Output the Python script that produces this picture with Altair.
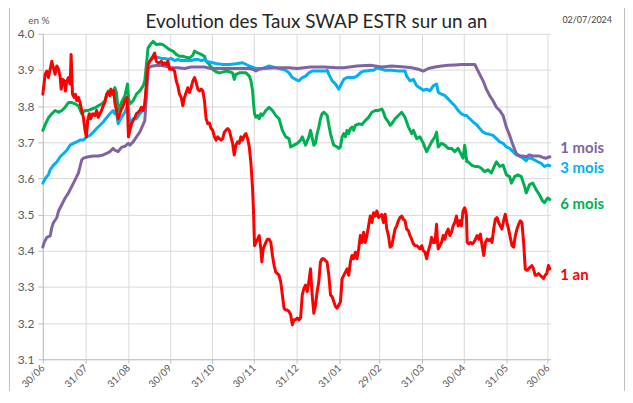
import altair as alt
import pandas as pd

# ---- data (day offsets from 30/06/2023, rates in %) ----
days_1an = [0, 1.7, 2.9, 4.1, 5.3, 6.5, 7.7, 8.9, 10.1, 11.4, 12.6, 13.3, 14.5, 15.4, 16.4, 17.4, 18.6, 19.8, 20.5, 21.5,
            22.7, 23.6, 24.6, 25.8, 27.0, 28.2, 29.4, 30.6, 31.6, 32.5, 33.7, 34.7, 36.1, 37.8, 39.0, 40.2, 41.4, 42.6, 43.8, 45.0,
            46.2, 47.4, 48.6, 49.3, 50.6, 51.5, 52.2, 53.4, 54.6, 55.8, 57.0, 58.2, 59.5, 60.2, 61.1, 62.1, 63.1, 64.3, 65.5, 66.7,
            67.9, 69.1, 70.3, 71.5, 72.7, 73.9, 75.1, 76.3, 77.5, 78.7, 79.9, 81.1, 82.3, 83.5, 84.7, 85.9, 87.1, 88.3, 89.5, 90.7,
            91.9, 93.1, 94.3, 95.5, 96.7, 97.9, 99.1, 100.3, 101.5, 102.7, 103.9, 105.1, 106.3, 107.5, 108.8, 110.0, 111.2, 112.4, 113.6, 114.8,
            116.0, 117.2, 118.4, 119.6, 120.8, 122.0, 123.2, 124.4, 125.6, 126.8, 128.0, 129.2, 130.4, 131.6, 132.8, 134.0, 135.2, 136.4, 137.6, 138.8,
            140.0, 141.2, 142.4, 143.6, 144.8, 146.1, 147.3, 148.5, 149.7, 150.9, 152.1, 152.8, 153.5, 154.5, 155.7, 156.9, 158.1, 158.8, 159.8, 160.7,
            161.7, 162.9, 164.1, 165.3, 166.5, 167.7, 168.9, 170.1, 171.3, 172.5, 173.7, 174.9, 176.1, 177.3, 178.5, 179.7, 180.9, 182.1, 183.3, 184.5,
            185.7, 186.9, 188.1, 189.3, 190.5, 191.7, 192.9, 194.1, 195.3, 196.5, 197.7, 198.9, 200.1, 201.3, 202.5, 203.7, 204.9, 206.1, 207.4, 208.6,
            209.8, 211.0, 212.2, 213.4, 214.6, 215.8, 217.0, 218.2, 219.4, 220.6, 221.8, 223.0, 224.2, 225.4, 226.6, 227.8, 229.0, 230.2, 231.4, 232.6,
            233.8, 235.0, 236.2, 237.4, 238.6, 239.8, 241.0, 242.2, 243.4, 244.6, 245.8, 247.0, 248.2, 249.4, 250.6, 251.8, 253.0, 254.2, 255.4, 256.6,
            257.8, 259.0, 260.2, 261.4, 262.6, 263.8, 265.0, 266.2, 267.4, 268.7, 269.9, 271.1, 272.3, 273.5, 274.7, 275.9, 277.1, 278.3, 279.5, 280.7,
            281.9, 283.1, 284.3, 285.5, 286.2, 286.7, 287.9, 289.1, 290.3, 291.5, 292.7, 293.9, 295.1, 296.3, 297.5, 298.7, 299.9, 301.1, 302.3, 303.5,
            304.7, 305.9, 307.1, 307.7, 308.9, 310.1, 311.3, 312.5, 313.7, 314.9, 316.1, 317.3, 318.5, 319.7, 320.9, 322.1, 323.3, 324.5, 325.7, 326.9,
            328.1, 329.3, 330.5, 331.7, 332.9, 334.1, 335.3, 336.5, 337.7, 338.9, 340.2, 341.4, 342.6, 343.8, 345.0, 346.2, 347.4, 348.6, 349.8, 351.0,
            352.2, 353.4, 354.6, 355.8, 357.0, 358.2, 359.4, 360.6, 361.8, 363.0, 364.2, 365.4, 366.6, 367.6]
vals_1an = [3.833, 3.888, 3.897, 3.879, 3.902, 3.924, 3.906, 3.888, 3.911, 3.902, 3.879, 3.847, 3.874, 3.870, 3.842, 3.870, 3.879, 3.861, 3.943, 3.833,
            3.824, 3.833, 3.815, 3.824, 3.810, 3.788, 3.769, 3.733, 3.715, 3.760, 3.779, 3.765, 3.779, 3.774, 3.788, 3.769, 3.779, 3.788, 3.801, 3.810,
            3.833, 3.838, 3.829, 3.847, 3.833, 3.842, 3.810, 3.788, 3.765, 3.779, 3.792, 3.801, 3.815, 3.820, 3.824, 3.715, 3.733, 3.751, 3.760, 3.769,
            3.779, 3.783, 3.788, 3.797, 3.788, 3.806, 3.861, 3.915, 3.924, 3.929, 3.938, 3.947, 3.924, 3.920, 3.920, 3.924, 3.915, 3.920, 3.915, 3.924,
            3.902, 3.902, 3.902, 3.897, 3.870, 3.856, 3.833, 3.824, 3.801, 3.824, 3.838, 3.851, 3.838, 3.851, 3.870, 3.879, 3.865, 3.847, 3.842, 3.847,
            3.842, 3.815, 3.765, 3.751, 3.753, 3.738, 3.733, 3.715, 3.706, 3.715, 3.710, 3.706, 3.710, 3.728, 3.733, 3.738, 3.733, 3.715, 3.697, 3.665,
            3.692, 3.701, 3.697, 3.715, 3.706, 3.719, 3.724, 3.710, 3.687, 3.642, 3.569, 3.505, 3.414, 3.423, 3.432, 3.442, 3.405, 3.369, 3.405, 3.414,
            3.423, 3.432, 3.432, 3.423, 3.387, 3.359, 3.341, 3.337, 3.332, 3.314, 3.277, 3.241, 3.236, 3.236, 3.232, 3.223, 3.195, 3.209, 3.209, 3.214,
            3.209, 3.214, 3.277, 3.296, 3.305, 3.287, 3.314, 3.350, 3.277, 3.227, 3.250, 3.287, 3.314, 3.369, 3.378, 3.378, 3.373, 3.369, 3.332, 3.277,
            3.273, 3.259, 3.246, 3.241, 3.250, 3.259, 3.323, 3.332, 3.341, 3.350, 3.332, 3.369, 3.387, 3.378, 3.396, 3.378, 3.405, 3.442, 3.423, 3.451,
            3.423, 3.442, 3.469, 3.496, 3.478, 3.505, 3.496, 3.510, 3.492, 3.496, 3.500, 3.478, 3.501, 3.460, 3.442, 3.410, 3.414, 3.437, 3.460, 3.469,
            3.483, 3.492, 3.496, 3.487, 3.483, 3.460, 3.456, 3.442, 3.432, 3.419, 3.414, 3.414, 3.410, 3.405, 3.414, 3.400, 3.396, 3.378, 3.400, 3.414,
            3.437, 3.423, 3.423, 3.473, 3.423, 3.405, 3.414, 3.423, 3.442, 3.432, 3.451, 3.460, 3.442, 3.451, 3.469, 3.478, 3.496, 3.469, 3.483, 3.469,
            3.510, 3.519, 3.500, 3.423, 3.419, 3.423, 3.419, 3.423, 3.432, 3.442, 3.432, 3.446, 3.414, 3.387, 3.423, 3.432, 3.428, 3.432, 3.423, 3.460,
            3.487, 3.492, 3.478, 3.469, 3.460, 3.483, 3.501, 3.478, 3.460, 3.437, 3.414, 3.410, 3.442, 3.460, 3.473, 3.483, 3.478, 3.423, 3.350, 3.346,
            3.350, 3.355, 3.359, 3.350, 3.332, 3.332, 3.337, 3.332, 3.328, 3.323, 3.332, 3.337, 3.359, 3.350]

days_6m = [0, 2.0, 4.1, 6.5, 8.9, 11.4, 13.8, 16.2, 18.6, 21.0, 23.4, 25.8, 28.2, 30.6, 33.0, 35.4, 37.8, 40.2, 42.6, 45.0,
           47.4, 49.8, 52.2, 53.4, 54.6, 57.0, 59.5, 61.4, 62.1, 63.1, 65.5, 67.9, 70.3, 72.7, 73.9, 75.1, 76.3, 78.7, 79.9, 82.3,
           84.7, 87.1, 89.5, 91.9, 94.3, 96.7, 99.1, 101.5, 103.9, 106.4, 108.8, 110.0, 112.4, 114.8, 117.2, 118.4, 120.8, 123.2, 125.6, 128.0,
           130.4, 132.8, 135.2, 137.6, 138.8, 140.0, 142.5, 144.9, 147.3, 149.7, 150.9, 152.1, 152.8, 153.5, 154.5, 155.7, 156.9, 158.1, 159.3, 161.7,
           164.1, 166.5, 168.9, 171.3, 173.7, 176.1, 178.5, 179.7, 182.1, 184.5, 186.9, 188.1, 190.5, 192.9, 194.1, 196.5, 197.7, 198.9, 200.1, 201.3,
           202.5, 203.8, 206.2, 207.4, 208.6, 209.8, 211.0, 213.4, 214.6, 215.8, 217.0, 218.2, 219.4, 220.6, 221.8, 223.0, 224.2, 225.4, 226.6, 229.0,
           231.4, 233.8, 236.2, 238.6, 241.0, 243.4, 245.8, 247.0, 248.2, 250.6, 251.8, 253.0, 255.4, 257.8, 260.2, 262.6, 265.1, 267.5, 268.7, 271.1,
           273.5, 275.9, 278.3, 279.5, 281.9, 284.3, 285.5, 286.7, 289.1, 291.5, 293.9, 296.3, 298.7, 301.1, 303.5, 304.7, 305.9, 307.4, 308.4, 310.8,
           313.2, 315.6, 318.0, 320.4, 322.8, 325.2, 327.7, 328.9, 331.3, 333.7, 336.1, 338.5, 339.7, 342.1, 344.5, 346.9, 349.3, 350.5, 352.9, 355.3,
           357.7, 360.1, 362.5, 363.7, 366.1, 367.6]
vals_6m = [3.733, 3.751, 3.768, 3.779, 3.788, 3.783, 3.788, 3.797, 3.810, 3.810, 3.806, 3.801, 3.779, 3.788, 3.788, 3.792, 3.795, 3.801, 3.806, 3.815,
           3.842, 3.833, 3.851, 3.838, 3.788, 3.810, 3.829, 3.861, 3.824, 3.806, 3.815, 3.833, 3.842, 3.856, 3.870, 3.915, 3.961, 3.974, 3.979, 3.970,
           3.972, 3.970, 3.963, 3.956, 3.952, 3.943, 3.938, 3.938, 3.935, 3.933, 3.941, 3.952, 3.947, 3.943, 3.938, 3.924, 3.915, 3.902, 3.895, 3.892,
           3.894, 3.897, 3.895, 3.892, 3.874, 3.888, 3.892, 3.892, 3.892, 3.883, 3.870, 3.842, 3.806, 3.779, 3.769, 3.774, 3.765, 3.779, 3.774, 3.788,
           3.797, 3.788, 3.774, 3.765, 3.733, 3.715, 3.710, 3.687, 3.692, 3.697, 3.706, 3.715, 3.692, 3.715, 3.733, 3.692, 3.697, 3.724, 3.742, 3.765,
           3.779, 3.783, 3.774, 3.747, 3.724, 3.706, 3.692, 3.687, 3.683, 3.687, 3.715, 3.724, 3.715, 3.733, 3.724, 3.738, 3.742, 3.733, 3.747, 3.751,
           3.749, 3.760, 3.769, 3.783, 3.788, 3.788, 3.792, 3.783, 3.769, 3.756, 3.747, 3.751, 3.765, 3.774, 3.783, 3.769, 3.742, 3.724, 3.733, 3.710,
           3.715, 3.697, 3.674, 3.683, 3.701, 3.715, 3.728, 3.687, 3.697, 3.692, 3.683, 3.683, 3.674, 3.683, 3.665, 3.656, 3.692, 3.646, 3.646, 3.637,
           3.633, 3.633, 3.628, 3.619, 3.624, 3.615, 3.637, 3.646, 3.633, 3.637, 3.610, 3.605, 3.587, 3.605, 3.610, 3.605, 3.578, 3.560, 3.583, 3.587,
           3.569, 3.555, 3.537, 3.533, 3.546, 3.542]

days_3m = [0, 2.0, 4.1, 5.3, 7.7, 10.2, 12.6, 15.0, 17.4, 19.8, 22.2, 24.6, 27.0, 29.4, 31.8, 34.2, 36.6, 39.0, 41.4, 43.8,
           46.2, 48.6, 51.0, 52.2, 53.4, 54.6, 57.0, 59.5, 61.9, 63.1, 65.5, 67.9, 70.3, 72.7, 73.9, 75.1, 76.3, 78.7, 81.1, 83.5,
           85.9, 88.3, 90.7, 93.1, 95.5, 97.9, 100.3, 102.7, 105.2, 107.6, 110.0, 112.4, 114.8, 117.2, 119.6, 123.2, 125.6, 130.4, 135.2, 140.0,
           144.9, 149.7, 154.5, 159.3, 164.1, 168.9, 173.7, 176.1, 178.5, 180.9, 183.3, 185.7, 188.1, 190.5, 192.9, 195.3, 197.7, 200.1, 202.5, 205.0,
           206.2, 207.4, 209.8, 212.2, 214.6, 215.8, 218.2, 220.6, 223.0, 225.4, 227.8, 230.2, 232.6, 235.0, 237.4, 239.8, 242.2, 245.8, 248.2, 253.0,
           257.8, 262.6, 263.8, 266.3, 268.7, 271.1, 273.5, 275.9, 278.3, 280.7, 283.1, 285.5, 286.7, 289.1, 291.5, 293.9, 296.3, 298.7, 301.1, 303.5,
           305.9, 307.2, 309.6, 312.0, 314.4, 316.8, 319.2, 321.6, 324.0, 326.4, 328.9, 331.3, 333.7, 336.1, 338.5, 340.9, 343.3, 345.7, 348.1, 350.5,
           351.7, 354.1, 356.5, 358.9, 361.3, 363.7, 366.1, 367.6]
vals_3m = [3.587, 3.601, 3.610, 3.624, 3.637, 3.646, 3.660, 3.669, 3.678, 3.692, 3.697, 3.701, 3.706, 3.706, 3.715, 3.719, 3.728, 3.738, 3.747, 3.756,
           3.768, 3.779, 3.788, 3.779, 3.783, 3.751, 3.769, 3.783, 3.806, 3.751, 3.765, 3.765, 3.779, 3.788, 3.797, 3.851, 3.915, 3.933, 3.933, 3.935,
           3.932, 3.932, 3.929, 3.932, 3.926, 3.929, 3.926, 3.926, 3.926, 3.926, 3.929, 3.929, 3.926, 3.929, 3.923, 3.920, 3.918, 3.915, 3.915, 3.917,
           3.920, 3.911, 3.904, 3.904, 3.911, 3.906, 3.902, 3.899, 3.892, 3.879, 3.874, 3.870, 3.879, 3.883, 3.892, 3.897, 3.897, 3.897, 3.897, 3.897,
           3.899, 3.888, 3.870, 3.861, 3.847, 3.856, 3.874, 3.879, 3.879, 3.879, 3.883, 3.892, 3.897, 3.897, 3.899, 3.899, 3.906, 3.902, 3.899, 3.899,
           3.897, 3.897, 3.883, 3.870, 3.874, 3.856, 3.850, 3.844, 3.847, 3.842, 3.856, 3.861, 3.838, 3.833, 3.829, 3.820, 3.810, 3.801, 3.788, 3.779,
           3.774, 3.774, 3.765, 3.756, 3.749, 3.738, 3.728, 3.724, 3.722, 3.719, 3.710, 3.701, 3.697, 3.687, 3.683, 3.674, 3.665, 3.662, 3.656, 3.649,
           3.656, 3.656, 3.651, 3.646, 3.642, 3.633, 3.637, 3.635]

days_1m = [0, 1.0, 2.9, 5.3, 6.5, 7.7, 10.2, 11.4, 13.8, 16.2, 18.6, 21.0, 23.4, 25.8, 27.0, 28.2, 29.4, 33.0, 36.6, 40.2,
           43.8, 46.2, 48.6, 51.0, 52.2, 54.6, 57.0, 59.5, 61.9, 63.1, 65.5, 67.9, 70.3, 72.7, 73.9, 75.1, 76.3, 78.7, 83.5, 88.3,
           93.1, 97.9, 102.7, 107.6, 112.4, 117.2, 122.0, 130.4, 140.0, 149.7, 152.1, 154.5, 156.9, 159.3, 168.9, 178.5, 184.5, 194.1, 203.8, 213.4,
           218.2, 227.8, 237.4, 245.8, 253.0, 262.6, 267.5, 272.3, 275.9, 279.5, 284.3, 289.1, 293.9, 298.7, 303.5, 309.6, 313.2, 314.4, 316.8, 319.2,
           321.6, 324.0, 326.4, 328.9, 331.3, 333.7, 336.1, 338.5, 340.9, 343.3, 345.7, 348.1, 350.5, 352.9, 355.3, 357.7, 360.1, 362.5, 364.9, 367.6]
vals_1m = [3.410, 3.423, 3.437, 3.441, 3.464, 3.478, 3.492, 3.510, 3.528, 3.546, 3.560, 3.578, 3.596, 3.615, 3.633, 3.651, 3.656, 3.660, 3.662, 3.662,
           3.665, 3.669, 3.674, 3.683, 3.678, 3.674, 3.686, 3.689, 3.697, 3.692, 3.701, 3.715, 3.728, 3.749, 3.760, 3.824, 3.906, 3.910, 3.913, 3.911,
           3.906, 3.906, 3.904, 3.908, 3.908, 3.908, 3.904, 3.904, 3.904, 3.904, 3.902, 3.897, 3.902, 3.904, 3.906, 3.906, 3.904, 3.908, 3.908, 3.906,
           3.906, 3.911, 3.913, 3.908, 3.911, 3.908, 3.906, 3.902, 3.897, 3.904, 3.908, 3.911, 3.913, 3.914, 3.915, 3.915, 3.915, 3.906, 3.888, 3.870,
           3.847, 3.829, 3.815, 3.797, 3.788, 3.774, 3.742, 3.719, 3.692, 3.669, 3.662, 3.662, 3.660, 3.665, 3.662, 3.662, 3.662, 3.658, 3.656, 3.660]

series_names = ["1 mois", "3 mois", "6 mois", "1 an"]
series_colors = ["#8064A2", "#00B0F0", "#00B050", "#FF0000"]
label_levels = [3.685, 3.630, 3.529, 3.334]

tick_days = [0, 31, 62, 92, 123, 153, 184, 215, 244, 275, 305, 336, 366]
tick_labels = ["30/06", "31/07", "31/08", "30/09", "31/10", "30/11", "31/12",
               "31/01", "29/02", "31/03", "30/04", "31/05", "30/06"]
y_ticks = [3.1, 3.2, 3.3, 3.4, 3.5, 3.6, 3.7, 3.8, 3.9, 4.0]

title_text = "Evolution des Taux SWAP ESTR sur un an"
unit_text = "en %"
date_text = "02/07/2024"

W, H = 510, 327
FONT = "Lato"
GRID = "#d9d9d9"
AXIS = "#bfbfbf"
LABEL = "#595959"

label_expr = "[" + ",".join("'%s'" % t for t in tick_labels) + "][indexof([" + \
    ",".join(str(d) for d in tick_days) + "], datum.value)]"

x_axis = alt.Axis(values=tick_days, labelExpr=label_expr, title=None,
                  labelAngle=-45, labelAlign="right", labelBaseline="middle",
                  labelFontSize=10, labelColor=LABEL, labelFont=FONT, labelOverlap=False,
                  grid=True, gridColor=GRID, domainColor=AXIS,
                  tickColor=AXIS, tickSize=4, labelPadding=3)
y_axis = alt.Axis(values=y_ticks, format=".1f", title=None, labelOverlap=False,
                  labelFontSize=12, labelColor=LABEL, labelFont=FONT,
                  grid=True, gridColor=GRID, domainColor=AXIS,
                  tickColor=AXIS, tickSize=5, labelPadding=4)
x_scale = alt.Scale(domain=[0, 368], nice=False, zero=False)
y_scale = alt.Scale(domain=[3.1, 4.0], nice=False, zero=False)
x_enc = alt.X("jour:Q", scale=x_scale, axis=x_axis)
y_enc = alt.Y("taux:Q", scale=y_scale, axis=y_axis)

draw_order = [("6 mois", days_6m, vals_6m), ("3 mois", days_3m, vals_3m),
              ("1 mois", days_1m, vals_1m), ("1 an", days_1an, vals_1an)]
color_of = dict(zip(series_names, series_colors))

layers = []
for name, d, v in draw_order:
    df = pd.DataFrame({"jour": d, "taux": v})
    layers.append(alt.Chart(df).mark_line(color=color_of[name], strokeWidth=3,
                                          strokeJoin="round", strokeCap="round")
                  .encode(x=x_enc, y=y_enc))

lab_df = pd.DataFrame({"serie": series_names, "taux": label_levels})
labels = alt.Chart(lab_df).mark_text(align="left", baseline="middle", font=FONT,
                                     fontSize=15, fontWeight="bold").encode(
    x=alt.value(W + 10),
    y=y_enc,
    text="serie:N",
    color=alt.Color("serie:N", scale=alt.Scale(domain=series_names, range=series_colors), legend=None),
)

one = pd.DataFrame({"t": [title_text]})
title = alt.Chart(one).mark_text(font=FONT, fontSize=19, color="#262626",
                                 align="center", baseline="alphabetic").encode(
    text="t:N", x=alt.value(275), y=alt.value(-6))
unit = alt.Chart(pd.DataFrame({"t": [unit_text]})).mark_text(
    font=FONT, fontSize=10, color=LABEL, align="center", baseline="middle").encode(
    text="t:N", x=alt.value(-4), y=alt.value(-13))
date = alt.Chart(pd.DataFrame({"t": [date_text]})).mark_text(
    font=FONT, fontSize=9, color="#404040", align="center", baseline="middle").encode(
    text="t:N", x=alt.value(547), y=alt.value(-14))

frame_df = pd.DataFrame({"k": [0]})
border_l = alt.Chart(frame_df).mark_rule(color="#bfbfbf", strokeWidth=1).encode(
    x=alt.value(-33.5), y=alt.value(-30), y2=alt.value(H + 40))
border_r = alt.Chart(frame_df).mark_rule(color="#bfbfbf", strokeWidth=1).encode(
    x=alt.value(584.5), y=alt.value(-30), y2=alt.value(H + 40))

chart = alt.layer(*layers, labels, title, unit, date, border_l, border_r).properties(
    width=W, height=H,
    padding={"left": 35, "top": 25, "right": 75, "bottom": 31},
    autosize=alt.AutoSizeParams(type="none"),
    background="white",
).configure_view(stroke=None)

chart.save("out.html", embed_options={"renderer": "svg", "actions": False})
